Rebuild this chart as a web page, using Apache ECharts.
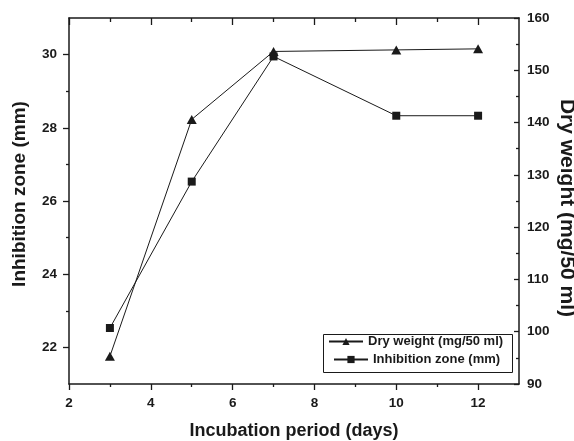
<!DOCTYPE html>
<html>
<head>
<meta charset="utf-8">
<script src="https://cdn.jsdelivr.net/npm/echarts@6/dist/echarts.min.js"></script>
<style>
  html, body { margin: 0; padding: 0; background: #fff; }
  #chart { width: 574px; height: 441px; }
</style>
</head>
<body>
<div id="chart"></div>
<script>
// Incubation period (days)
const days = [3, 5, 7, 10, 12];
// Dry weight (mg/50 ml), right axis
const dryWeight = [95.3, 140.6, 153.6, 153.9, 154.1];
// Inhibition zone (mm), left axis
const inhibitionZone = [22.53, 26.53, 29.95, 28.33, 28.33];

// Tick positions
const xMajorTicks = [2, 4, 6, 8, 10, 12];
const xMinorTicks = [3, 5, 7, 9, 11];
const leftMajorTicks = [22, 24, 26, 28, 30];
const leftMinorTicks = [23, 25, 27, 29];
const rightMajorTicks = [90, 100, 110, 120, 130, 140, 150, 160];
const rightMinorTicks = [95, 105, 115, 125, 135, 145, 155];

const FONT = '"Liberation Sans", Arial, sans-serif';
const INK = '#1a1a1a';
const axisLineStyle = { color: INK, width: 1.5 };
const tickStyle = { color: INK, width: 1.3 };

function tickAxis(base, ticks, len, inside) {
  return Object.assign({
    type: 'value',
    splitLine: { show: false },
    axisLine: { show: false },
    axisLabel: { show: false },
    axisTick: { show: true, inside: inside, length: len, customValues: ticks, lineStyle: tickStyle }
  }, base);
}

const chart = echarts.init(document.getElementById('chart'), null, { renderer: 'canvas' });

chart.setOption({
  animation: false,
  backgroundColor: '#fff',
  textStyle: { fontFamily: FONT },
  grid: { left: 69, right: 55, top: 18, bottom: 57, containLabel: false, outerBoundsMode: 'none' },
  xAxis: [
    {
      type: 'value', position: 'bottom', min: 2, max: 13,
      splitLine: { show: false },
      axisLine: { show: true, lineStyle: axisLineStyle },
      axisTick: { show: true, length: 6, customValues: xMajorTicks, lineStyle: tickStyle },
      axisLabel: { customValues: xMajorTicks, margin: 12, color: INK, fontSize: 13.5, fontWeight: 'bold', fontFamily: FONT },
      name: 'Incubation period (days)', nameLocation: 'middle', nameGap: 38, nameMoveOverlap: false,
      nameTextStyle: { color: INK, fontSize: 18, fontWeight: 'bold', fontFamily: FONT }
    },
    tickAxis({ position: 'bottom', min: 2, max: 13 }, xMinorTicks, 3, false),
    Object.assign(tickAxis({ position: 'top', min: 2, max: 13 }, xMajorTicks, 7, true),
      { axisLine: { show: true, lineStyle: axisLineStyle } }),
    tickAxis({ position: 'top', min: 2, max: 13 }, xMinorTicks, 4, true)
  ],
  yAxis: [
    {
      type: 'value', position: 'left', min: 21, max: 31,
      splitLine: { show: false },
      axisLine: { show: true, lineStyle: axisLineStyle },
      axisTick: { show: true, length: 6, customValues: leftMajorTicks, lineStyle: tickStyle },
      axisLabel: { customValues: leftMajorTicks, margin: 12, color: INK, fontSize: 13.5, fontWeight: 'bold', fontFamily: FONT },
      name: 'Inhibition zone (mm)', nameLocation: 'middle', nameGap: 40, nameMoveOverlap: false,
      nameTextStyle: { color: INK, fontSize: 19, fontWeight: 'bold', fontFamily: FONT, padding: [0, 0, 0, 14] }
    },
    tickAxis({ position: 'left', min: 21, max: 31 }, leftMinorTicks, 3, false),
    {
      type: 'value', position: 'right', min: 90, max: 160,
      splitLine: { show: false },
      axisLine: { show: true, lineStyle: axisLineStyle },
      axisTick: { show: true, inside: true, length: 5, customValues: rightMajorTicks, lineStyle: tickStyle },
      axisLabel: { customValues: rightMajorTicks, margin: 8, color: INK, fontSize: 13.5, fontWeight: 'bold', fontFamily: FONT },
      name: 'Dry weight (mg/50 ml)', nameLocation: 'middle', nameGap: 37, nameRotate: -90, nameMoveOverlap: false,
      nameTextStyle: { color: INK, fontSize: 21, fontWeight: 'bold', fontFamily: FONT, padding: [0, 0, 0, 14] }
    },
    tickAxis({ position: 'right', min: 90, max: 160 }, rightMinorTicks, 3, true)
  ],
  legend: [
    {
      data: ['Dry weight (mg/50 ml)'], left: 328, top: 335, padding: 0,
      itemWidth: 34, itemHeight: 9,
      textStyle: { color: INK, fontSize: 13, fontWeight: 'bold', fontFamily: FONT }
    },
    {
      data: ['Inhibition zone (mm)'], left: 333, top: 353, padding: 0,
      itemWidth: 34, itemHeight: 9,
      textStyle: { color: INK, fontSize: 13, fontWeight: 'bold', fontFamily: FONT }
    }
  ],
  graphic: [
    {
      type: 'rect', left: 321, top: 332, z: 100, silent: true,
      shape: { width: 189, height: 38 },
      style: { fill: null, stroke: INK, lineWidth: 1 }
    }
  ],
  series: [
    {
      name: 'Dry weight (mg/50 ml)', type: 'line', xAxisIndex: 0, yAxisIndex: 2,
      data: days.map((d, i) => [d, dryWeight[i]]),
      symbol: 'triangle', symbolSize: [10, 9],
      lineStyle: { color: INK, width: 1 },
      itemStyle: { color: INK, borderWidth: 0 }
    },
    {
      name: 'Inhibition zone (mm)', type: 'line', xAxisIndex: 0, yAxisIndex: 0,
      data: days.map((d, i) => [d, inhibitionZone[i]]),
      symbol: 'rect', symbolSize: 8,
      lineStyle: { color: INK, width: 1 },
      itemStyle: { color: INK, borderWidth: 0 }
    }
  ]
});
</script>
</body>
</html>
